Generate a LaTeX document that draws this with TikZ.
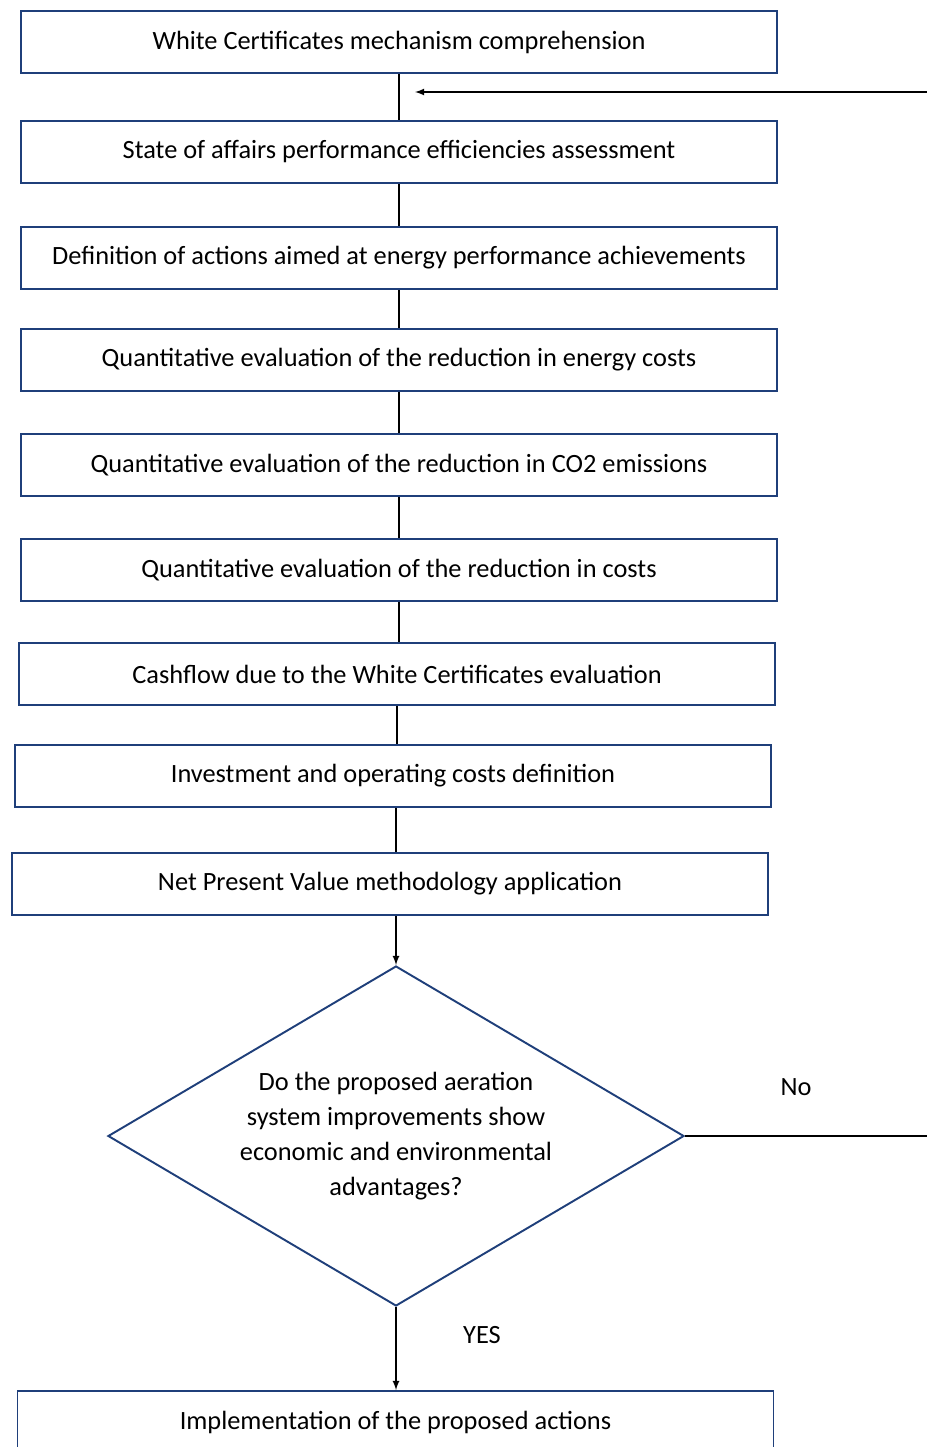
\documentclass[tikz,border=0pt]{standalone}
\usepackage{fontspec}
\setmainfont{Carlito}
\usetikzlibrary{shapes.geometric}
\definecolor{boxblue}{HTML}{1F3F7A}
\begin{document}
\begin{tikzpicture}[
        stepbox/.style={rectangle, draw=boxblue, line width=1.1pt, minimum width=15.12cm, minimum height=1.24cm, inner sep=0pt, font=\fontsize{15}{18}\selectfont},
        decisionnode/.style={diamond, draw=boxblue, line width=1.1pt, aspect=1.7, minimum width=11.52cm, minimum height=6.8cm, inner sep=0pt, align=center, font=\fontsize{15}{20}\selectfont},
        flowline/.style={draw=black, line width=0.8pt},
        labeltext/.style={font=\fontsize{15}{18}\selectfont},
    ]
        \useasboundingbox (0,0) rectangle (18.54,-28.94);

        %Nodes
        \node[stepbox] (wcm) at (7.98,-0.84) {White Certificates mechanism comprehension};
        \node[stepbox] (soa) at (7.98,-3.04) {State of affairs performance efficiencies assessment};
        \node[stepbox] (act) at (7.98,-5.16) {Definition of actions aimed at energy performance achievements};
        \node[stepbox] (qen) at (7.98,-7.2) {Quantitative evaluation of the reduction in energy costs};
        \node[stepbox] (qco) at (7.98,-9.3) {Quantitative evaluation of the reduction in CO2 emissions};
        \node[stepbox] (qct) at (7.98,-11.4) {Quantitative evaluation of the reduction in costs};
        \node[stepbox] (cfw) at (7.94,-13.48) {Cashflow due to the White Certificates evaluation};
        \node[stepbox] (inv) at (7.86,-15.52) {Investment and operating costs definition};
        \node[stepbox] (npv) at (7.8,-17.68) {Net Present Value methodology application};

        \node[decisionnode] (adv) at (7.92,-22.72) {Do the proposed aeration\\system improvements show\\economic and environmental\\advantages?};

        \node[stepbox] (imp) at (7.91,-28.44) {Implementation of the proposed actions};

        \node[labeltext] (no_t) at (15.92,-21.74) {No};
        \node[labeltext] (yes_t) at (9.64,-26.7) {YES};

        \coordinate (loopturn) at (18.8,-1.84);
        \coordinate (loopend) at (8.3,-1.84);

        %Lines
        \foreach \a/\b in {wcm/soa, soa/act, act/qen, qen/qco, qco/qct, qct/cfw}{
            \draw[flowline] (\a.south) -- (\a.south |- \b.north);
        }
        \draw[flowline] (cfw.south) -- (cfw.south |- inv.north);
        \draw[flowline] (adv.north |- inv.south) -- (adv.north |- npv.north);
        \draw[flowline, -latex] (adv.north |- npv.south) -- (adv.north);
        \draw[flowline, -latex] (adv.south) -- (adv.south |- imp.north);

        % loop back
        \draw[flowline, -latex] (adv.east) -- (adv.east -| loopturn) -- (loopturn) -- (loopend);
    \end{tikzpicture}
\end{document}
